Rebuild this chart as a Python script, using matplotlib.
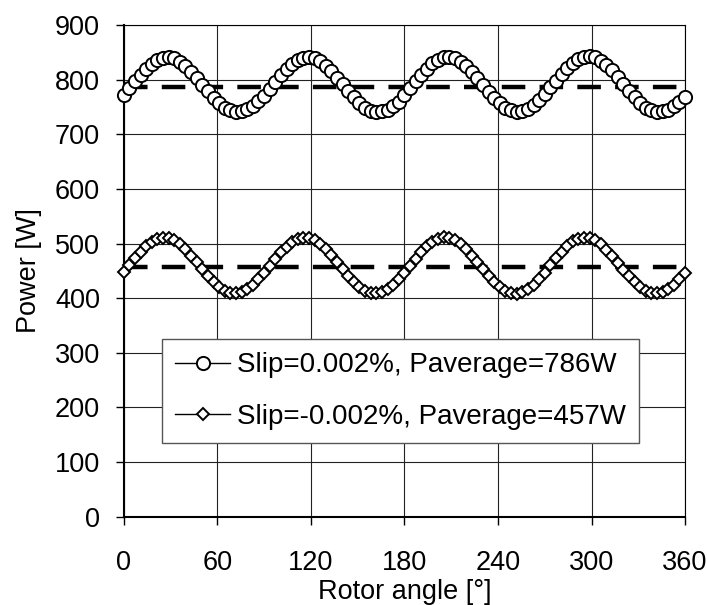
import numpy as np
import matplotlib
matplotlib.use("Agg")
import matplotlib.pyplot as plt

plt.rcParams['font.family'] = ['Liberation Sans', 'DejaVu Sans']

# rotor angle samples, 3.6 deg step
rotor_angle = np.linspace(0, 360, 101)

# Slip = +0.002 %  (circles)
power_pos = [
    772, 784, 797, 809, 820, 829, 836, 840, 841, 839, 833, 825, 815, 804, 791, 779, 767, 757, 749, 744, 741, 742, 746, 752, 761,
    771, 783, 796, 808, 819, 829, 836, 840, 842, 840, 834, 826, 816, 804, 792, 779, 768, 757, 749, 743, 741, 742, 745, 752, 760,
    772, 784, 797, 809, 820, 830, 837, 841, 842, 839, 833, 825, 815, 803, 791, 778, 767, 757, 749, 744, 741, 742, 746, 753, 762,
    773, 786, 798, 811, 822, 831, 838, 842, 844, 841, 835, 827, 817, 805, 792, 780, 768, 758, 749, 744, 741, 742, 745, 752, 760,
    769,
]

# Slip = -0.002 %  (diamonds)
power_neg = [
    448, 460, 473, 485, 495, 503, 509, 511, 510, 506, 499, 490, 478, 466, 453, 441, 430, 420, 414, 410, 409, 412, 417, 425, 436,
    447, 459, 472, 484, 494, 503, 508, 511, 511, 507, 500, 490, 479, 466, 454, 441, 430, 421, 414, 410, 409, 411, 416, 424, 435,
    446, 459, 472, 484, 495, 503, 509, 512, 511, 507, 499, 490, 478, 466, 453, 440, 429, 420, 413, 409, 408, 411, 417, 425, 435,
    447, 460, 473, 485, 495, 504, 509, 511, 510, 506, 499, 489, 477, 465, 452, 440, 429, 420, 413, 409, 409, 411, 416, 424, 435,
    446,
]

avg_pos = 786
avg_neg = 457
labels = ["Slip=0.002%, Paverage=786W", "Slip=-0.002%, Paverage=457W"]

fig = plt.figure(figsize=(7.07, 6.05), dpi=100)
ax = fig.add_axes([0.175, 0.146, 0.794, 0.8125])

# average lines (behind the markers)
for avg in (avg_pos, avg_neg):
    ax.plot([rotor_angle[0], rotor_angle[-1]], [avg, avg], color='black', lw=3.2,
            dashes=(5.3, 3.2), zorder=2, solid_capstyle='butt', dash_capstyle='butt')

ax.plot(rotor_angle, power_pos, '-o', color='black', lw=1, ms=9.5, mew=1.4,
        mfc='white', mec='black', label=labels[0], zorder=3, clip_on=False)
ax.plot(rotor_angle, power_neg, '-D', color='black', lw=1, ms=6.4, mew=1.4,
        mfc='white', mec='black', label=labels[1], zorder=3, clip_on=False)

ax.set_xlim(0, 360)
ax.set_ylim(0, 900)
ax.set_xticks(np.arange(0, 361, 60))
ax.set_yticks(np.arange(0, 901, 100))
ax.grid(True, color='#222222', lw=0.8)
ax.set_axisbelow(True)

ax.tick_params(axis='both', direction='out', length=6, width=1, labelsize=19.5, color='black')
ax.tick_params(axis='y', pad=11)
ax.tick_params(axis='x', pad=18)
for side in ('left', 'bottom'):
    ax.spines[side].set_linewidth(1.5)
for side in ('top', 'right'):
    ax.spines[side].set_linewidth(0.8)

ax.set_xlabel("Rotor angle [°]", fontsize=19.5)
ax.set_ylabel("Power [W]", fontsize=19.5)
ax.xaxis.set_label_coords(0.5, -0.126)
ax.yaxis.set_label_coords(-0.146, 0.5)

leg = ax.legend(loc='lower left', bbox_to_anchor=(0.0677, 0.149), borderaxespad=0,
                fontsize=20, fancybox=False, framealpha=1, edgecolor='#555555',
                handlelength=1.98, handletextpad=0.25, labelspacing=0.93, borderpad=0.48)
leg.get_frame().set_linewidth(1)
leg.set_zorder(5)

plt.savefig('out.png', dpi=100)
